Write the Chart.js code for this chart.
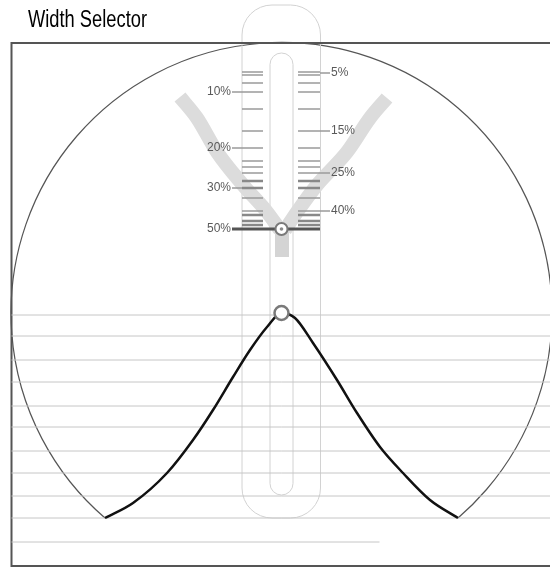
<!DOCTYPE html>
<html>
<head>
<meta charset="utf-8">
<title>Width Selector</title>
<script src="https://cdn.jsdelivr.net/npm/chart.js@4.4.1/dist/chart.umd.min.js"></script>
<style>
  html, body { margin: 0; padding: 0; background: #fff; overflow: hidden; }
  canvas { display: block; }
</style>
</head>
<body>
<canvas id="selectorChart" width="550" height="569"></canvas>
<script>
// x is measured from the selector axis, y from the curve baseline (1 unit ~ 1 px)
const curveX = [-176.5, -148.5, -114.5, -88.5, -68.5, -48.5, -31.5, -14.5, 0, 13.5, 31.5, 55.5, 75.5, 98.5, 121.5, 148.5, 176.5];
const curveY = [0, 15, 45, 78, 108, 141, 168, 191, 205, 200, 175, 138, 105, 71, 45, 18, 0];

const gridLevels = [203, 182, 158, 136, 112, 91, 67, 45, 22, 0];
const shortGridLevel = -24;

const tickLevels = [446, 443, 435, 426, 409, 387, 370, 357, 351, 345, 337, 330, 320, 307, 303, 297, 293];
const heavyTickLevels = [337, 330, 303, 297, 293];
const selectedLevel = 289;

const leftLabels = ["10%", "20%", "30%", "50%"];
const leftLabelLevels = [426, 370, 330, 289];
const rightLabels = ["5%", "15%", "25%", "40%"];
const rightLabelLevels = [445, 387, 345, 307];

const leftBandX = [-101.5, -84.5, -64.5, -38.5, -14.5, -1.5];
const leftBandY = [421, 400, 366, 333, 306, 288];
const rightBandX = [3.5, 15.5, 35.5, 65.5, 88.5, 105.5];
const rightBandY = [288, 306, 333, 366, 400, 420];

// layout of the drawing (not data)
const frame = { left: -270, right: 290, top: 475, bottom: -48 };
const outerTube = { left: -39.5, right: 39, top: 513, bottom: 0, radius: 30 };
const innerTube = { left: -11.5, right: 11.5, top: 465, bottom: 23, radius: 11.5 };
const tickSpan = { leftA: -39.5, leftB: -18.5, rightA: 16.5, rightB: 38.5, lead: 10 };
const gridSpan = { left: -270, right: 290, shortRight: 98 };

const pts = (xs, ys) => xs.map((x, i) => ({ x: x, y: ys[i] }));

function segments(list) {
  // list of [x1, x2, y], split with null points so the line breaks
  const out = [];
  list.forEach(([x1, x2, y]) => {
    out.push({ x: x1, y: y }, { x: x2, y: y }, { x: x2, y: null });
  });
  return out;
}

const gridSegs = gridLevels.map((y) => [gridSpan.left, gridSpan.right, y]);
gridSegs.push([gridSpan.left, gridSpan.shortRight, shortGridLevel]);

const tickSegs = [];
tickLevels.forEach((y) => {
  tickSegs.push([tickSpan.leftA, tickSpan.leftB, y]);
  tickSegs.push([tickSpan.rightA, tickSpan.rightB, y]);
});
leftLabelLevels.forEach((y) => tickSegs.push([tickSpan.leftA - tickSpan.lead, tickSpan.leftA, y]));
rightLabelLevels.forEach((y) => tickSegs.push([tickSpan.rightB, tickSpan.rightB + tickSpan.lead, y]));

const heavySegs = [];
heavyTickLevels.forEach((y) => {
  heavySegs.push([tickSpan.leftA, tickSpan.leftB, y]);
  heavySegs.push([tickSpan.rightA, tickSpan.rightB, y]);
});

const framePts = [
  { x: frame.right, y: frame.top },
  { x: frame.left, y: frame.top },
  { x: frame.left, y: frame.bottom },
  { x: frame.right, y: frame.bottom },
];

const peakY = Math.max(...curveY);
const peakX = curveX[curveY.indexOf(peakY)];

const line = (data, color, width, order, extra) =>
  Object.assign(
    {
      data: data,
      showLine: true,
      borderColor: color,
      borderWidth: width,
      pointRadius: 0,
      spanGaps: false,
      order: order,
    },
    extra || {}
  );

// circle arc, tubes and text
const selectorDrawing = {
  id: "selectorDrawing",
  beforeDatasetsDraw(chart) {
    const { ctx, scales } = chart;
    const X = (v) => scales.x.getPixelForValue(v);
    const Y = (v) => scales.y.getPixelForValue(v);
    ctx.save();

    // big circle through the curve ends, centred on the peak
    const cx = X(peakX), cy = Y(peakY);
    const lx = X(curveX[0]), ly = Y(curveY[0]);
    const rx = X(curveX[curveX.length - 1]), ry = Y(curveY[curveY.length - 1]);
    const r = Math.hypot(lx - cx, ly - cy);
    ctx.beginPath();
    ctx.arc(cx, cy, r, Math.atan2(ly - cy, lx - cx), Math.atan2(ry - cy, rx - cx), false);
    ctx.strokeStyle = "#555";
    ctx.lineWidth = 1.2;
    ctx.stroke();

    // tubes
    ctx.strokeStyle = "#d2d2d2";
    ctx.lineWidth = 1;
    [outerTube, innerTube].forEach((t) => {
      const x0 = X(t.left), x1 = X(t.right);
      const y0 = Y(t.top), y1 = Y(t.bottom);
      const rad = X(t.radius) - X(0);
      ctx.beginPath();
      ctx.roundRect(x0, y0, x1 - x0, y1 - y0, rad);
      ctx.stroke();
    });
    ctx.restore();
  },
  afterDatasetsDraw(chart) {
    const { ctx, scales } = chart;
    const X = (v) => scales.x.getPixelForValue(v);
    const Y = (v) => scales.y.getPixelForValue(v);
    ctx.save();
    ctx.fillStyle = "#5a5a5a";
    ctx.font = "12px 'Liberation Sans', Arial, sans-serif";
    ctx.textBaseline = "middle";
    ctx.textAlign = "right";
    leftLabels.forEach((t, i) => ctx.fillText(t, X(tickSpan.leftA - tickSpan.lead - 1), Y(leftLabelLevels[i])));
    ctx.textAlign = "left";
    rightLabels.forEach((t, i) => ctx.fillText(t, X(tickSpan.rightB + tickSpan.lead + 1), Y(rightLabelLevels[i])));

    // title in a condensed face: squeeze to the reference width
    const title = "Width Selector";
    ctx.fillStyle = "#000";
    ctx.font = "23px 'Liberation Sans', Arial, sans-serif";
    ctx.textBaseline = "alphabetic";
    ctx.textAlign = "left";
    const w = ctx.measureText(title).width;
    ctx.translate(28, 27);
    ctx.scale(119 / w, 1);
    ctx.fillText(title, 0, 0);
    ctx.restore();
  },
};

new Chart(document.getElementById("selectorChart"), {
  type: "scatter",
  data: {
    datasets: [
      {
        data: [{ x: 0, y: selectedLevel }],
        pointRadius: 1.8,
        pointBackgroundColor: "#8a8a8a",
        pointBorderWidth: 0,
        order: -1,
      },
      {
        data: [{ x: peakX, y: peakY }, { x: 0, y: selectedLevel }],
        pointRadius: [7, 6],
        pointBorderWidth: [2.5, 2],
        pointBorderColor: "#7a7a7a",
        pointBackgroundColor: "#fff",
        order: 0,
      },
      line(pts(curveX, curveY), "#111", 2.5, 1, { cubicInterpolationMode: "monotone" }),
      line(segments([[tickSpan.leftA - tickSpan.lead, tickSpan.rightB, selectedLevel]]), "#555", 3, 2),
      line(segments(heavySegs), "#888", 2.5, 3),
      line(segments(tickSegs), "#9a9a9a", 1.5, 4),
      line([{ x: 0.5, y: 288 }, { x: 0.5, y: 261 }], "#d4d4d4", 14, 5),
      line(pts(leftBandX, leftBandY), "#dcdcdc", 14, 6, { cubicInterpolationMode: "monotone" }),
      line(pts(rightBandX, rightBandY), "#dcdcdc", 14, 6, { cubicInterpolationMode: "monotone" }),
      line(segments(gridSegs), "#c6c6c6", 1, 7),
      line(framePts, "#555", 2, 8),
    ],
  },
  options: {
    responsive: false,
    animation: false,
    layout: { padding: 0, autoPadding: false },
    plugins: { legend: { display: false }, tooltip: { enabled: false }, title: { display: false } },
    scales: {
      x: { type: "linear", min: -281.5, max: 268.5, display: false },
      y: { type: "linear", min: -51, max: 518, display: false },
    },
  },
  plugins: [selectorDrawing],
});
</script>
</body>
</html>
